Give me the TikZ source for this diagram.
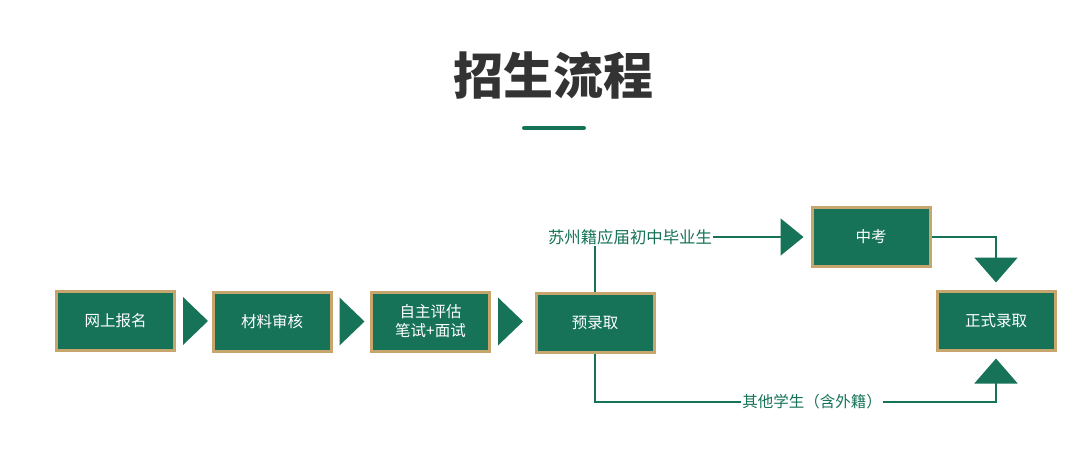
\documentclass[tikz,border=0pt]{standalone}
\usepackage{fontspec}
\setmainfont{Noto Sans CJK SC}
\usetikzlibrary{arrows.meta}
\definecolor{mygreen}{RGB}{22,115,88}
\definecolor{mygold}{RGB}{198,166,108}
\definecolor{titlegray}{RGB}{51,51,51}
\begin{document}
\begin{tikzpicture}[x=1pt,y=-1pt,
  box/.style={draw=mygold,fill=mygreen,line width=3pt,minimum width=118pt,minimum height=59pt,
    text=white,font=\fontsize{15.5}{19}\selectfont,align=center,inner sep=0pt},
  lbl/.style={text=mygreen,font=\fontsize{15.5}{19}\selectfont,inner sep=1pt,fill=white},
  chevfill/.style={fill=mygreen},
  conn/.style={mygreen,line width=2pt},
  vtip/.style={-{Triangle[width=43pt,length=25pt]},conn,shorten >=7pt},
  htip/.style={-{Triangle[width=37pt,length=23pt]},conn,shorten >=7pt}]
\useasboundingbox (0,0) rectangle (1080,464);
\fill[white] (0,0) rectangle (1080,464);
\node[text=titlegray,font=\fontsize{50}{56}\selectfont\bfseries] (title) at (553,75) {招生流程};
\draw[mygreen,line width=4pt,line cap=round] (524,128) coordinate (u1) -- (584,128) coordinate (u2);
\node[box] (a) at (115.5,321) {网上报名};
\node[box] (b) at (272,321.5) {材料审核};
\node[box] (c) at (430.5,321.5) {自主评估\\笔试+面试};
\node[box] (d) at (595,323) {预录取};
\node[box] (e) at (871,237) {中考};
\node[box] (f) at (996,320.5) {正式录取};
\node[lbl,font=\fontsize{16.4}{19}\selectfont] (l1) at (630,237) {苏州籍应届初中毕业生};
\node[lbl] (l2) at (812,402) {其他学生（含外籍）};
\foreach \s in {a,b,c}{
  \fill[chevfill] ([shift={(7,-24)}]\s.east) -- ([shift={(7,24)}]\s.east) -- ([shift={(32,0)}]\s.east) -- cycle;
}
\draw[conn] (d.north) -- (d.north |- l1.south);
\draw[htip] (l1.east) -- (e.west);
\draw[vtip] (e.east) -| (f.north);
\draw[conn] (d.south) |- (l2.west);
\draw[vtip] (l2.east) -| (f.south);
\end{tikzpicture}
\end{document}
